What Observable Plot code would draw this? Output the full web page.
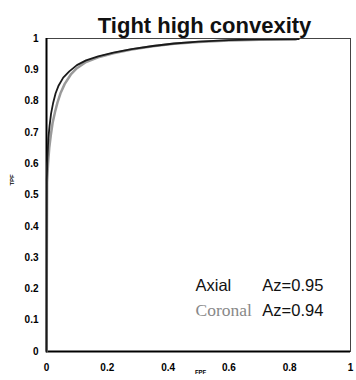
<!DOCTYPE html>
<html><head><meta charset="utf-8">
<script src="https://cdn.jsdelivr.net/npm/d3@7"></script>
<script src="https://cdn.jsdelivr.net/npm/@observablehq/plot@0.6"></script>
<style>body{margin:0;background:#fff;font-family:"Liberation Sans",Arial,sans-serif}</style>
</head><body><div id="chart"></div>
<script>
const title = "Tight high convexity";
const xLabel = "FPF";
const yLabel = "TPF";
const xTicks = [0, 0.2, 0.4, 0.6, 0.8, 1];
const xTickLabels = ["0", "0.2", "0.4", "0.6", "0.8", "1"];
const yTicks = [0, 0.1, 0.2, 0.3, 0.4, 0.5, 0.6, 0.7, 0.8, 0.9, 1];
const yTickLabels = ["0", "0.1", "0.2", "0.3", "0.4", "0.5", "0.6", "0.7", "0.8", "0.9", "1"];

const axialFPF = [0, 0.001, 0.003, 0.006, 0.01, 0.015, 0.022, 0.03, 0.04, 0.055, 0.075, 0.1, 0.13, 0.17, 0.22, 0.28, 0.35, 0.42, 0.5, 0.6, 0.7, 0.83];
const axialTPF = [0, 0.55, 0.62, 0.68, 0.72, 0.76, 0.795, 0.825, 0.85, 0.875, 0.895, 0.915, 0.93, 0.943, 0.955, 0.966, 0.976, 0.984, 0.99, 0.995, 0.997, 0.998];
const coronalFPF = [0, 0.002, 0.005, 0.009, 0.014, 0.02, 0.028, 0.036, 0.046, 0.06, 0.08, 0.1, 0.13, 0.17, 0.22, 0.28, 0.35, 0.42, 0.5, 0.6, 0.7, 0.82];
const coronalTPF = [0, 0.54, 0.6, 0.65, 0.69, 0.73, 0.765, 0.795, 0.825, 0.855, 0.885, 0.905, 0.925, 0.94, 0.953, 0.965, 0.975, 0.983, 0.989, 0.994, 0.996, 0.997];

const seriesNames = ["Axial", "Coronal"];
const azLabels = ["Az=0.95", "Az=0.94"];

const axial = axialFPF.map((x, i) => ({x, y: axialTPF[i]}));
const coronal = coronalFPF.map((x, i) => ({x, y: coronalTPF[i]}));

const plot = Plot.plot({
  width: 356, height: 380,
  marginLeft: 46, marginRight: 6, marginTop: 38, marginBottom: 29,
  style: {fontFamily: "'Liberation Sans', Arial, sans-serif", background: "#fff"},
  x: {domain: [0, 1]},
  y: {domain: [0, 1]},
  marks: [
    Plot.frame({stroke: "#444", strokeWidth: 1}),
    Plot.ruleX([0], {stroke: "#000", strokeWidth: 2}),
    Plot.ruleY([0], {stroke: "#000", strokeWidth: 2}),
    Plot.axisX({ticks: xTicks, tickFormat: (d, i) => xTickLabels[i], tickSize: 0, tickPadding: 12, fontSize: 10, fontWeight: "bold", label: null}),
    Plot.axisY({ticks: yTicks, tickFormat: (d, i) => yTickLabels[i], tickSize: 0, tickPadding: 8, fontSize: 10, fontWeight: "bold", label: null}),
    Plot.line(coronal, {x: "x", y: "y", stroke: "#9a9a9a", strokeWidth: 2.5, curve: "linear"}),
    Plot.line(axial, {x: "x", y: "y", stroke: "#1a1a1a", strokeWidth: 1.8, curve: "linear"}),
    Plot.text([title], {frameAnchor: "top", x: 0.52, dy: -21, text: d => d, fontSize: 22, fontWeight: "bold", fill: "#111"}),
    Plot.text([xLabel], {frameAnchor: "bottom", x: 0.507, dy: 22, text: d => d, fontSize: 6, fontWeight: "bold"}),
    Plot.text([yLabel], {frameAnchor: "left", y: 0.53, dx: -34, rotate: -90, text: d => d, fontSize: 6, fontWeight: "bold"}),
    Plot.text([seriesNames[0]], {x: 0.49, y: 0.21, text: d => d, textAnchor: "start", fontSize: 16.5, fill: "#111"}),
    Plot.text([seriesNames[1]], {x: 0.49, y: 0.13, text: d => d, textAnchor: "start", fontSize: 17.5, fill: "#888", fontFamily: "'Liberation Serif', serif"}),
    Plot.text([azLabels[0]], {x: 0.71, y: 0.21, text: d => d, textAnchor: "start", fontSize: 16.5, fill: "#111"}),
    Plot.text([azLabels[1]], {x: 0.71, y: 0.13, text: d => d, textAnchor: "start", fontSize: 16.5, fill: "#111"})
  ]
});
document.getElementById("chart").appendChild(plot);
</script></body></html>
